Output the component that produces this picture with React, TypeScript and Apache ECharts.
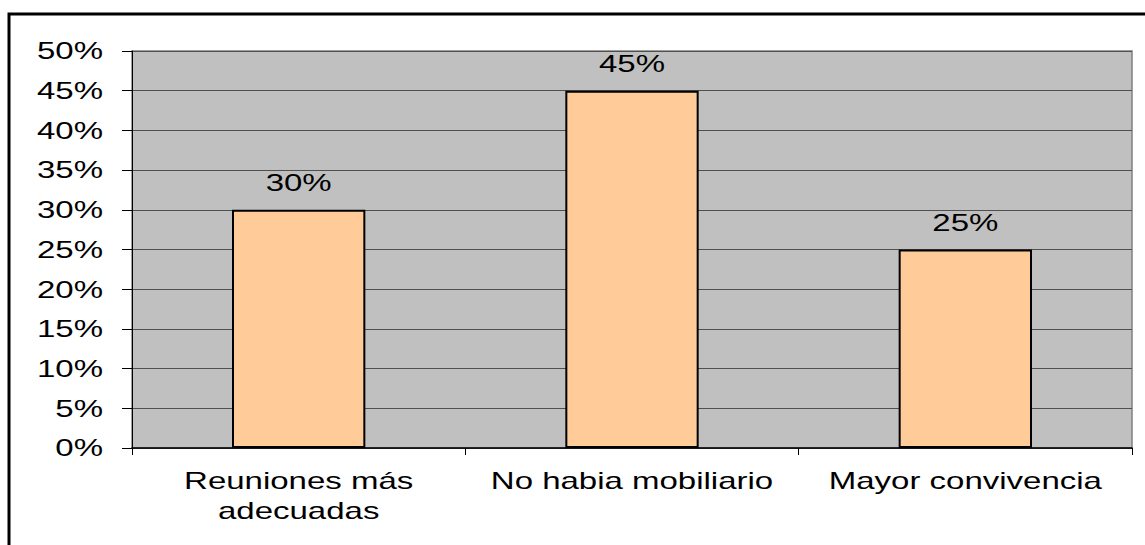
import React, { useEffect, useRef } from "react";
import * as echarts from "echarts";

const categoryLines = [["Reuniones más", "adecuadas"], ["No habia mobiliario"], ["Mayor convivencia"]];
const values = [0.3, 0.45, 0.25];
const yTickValues = [0, 0.05, 0.1, 0.15, 0.2, 0.25, 0.3, 0.35, 0.4, 0.45, 0.5];
const yTickLabels = ["0%", "5%", "10%", "15%", "20%", "25%", "30%", "35%", "40%", "45%", "50%"];
const valueLabels = ["30%", "45%", "25%"];

const FONT = "Liberation Sans";
const FS = 24;
const SX = 1.375;

export default function App() {
  const ref = useRef<HTMLDivElement>(null);
  useEffect(() => {
    document.body.style.margin = "0";
    const chart = echarts.init(ref.current!, null, { renderer: "svg" });
    chart.setOption({
      animation: false,
      backgroundColor: "#ffffff",
      grid: {
        left: 132,
        top: 51,
        width: 1000,
        height: 397,
        show: true,
        backgroundColor: "#C0C0C0",
        borderColor: "#808080",
        borderWidth: 1.5,
      },
      xAxis: {
        type: "category",
        data: categoryLines.map((l) => l.join(" ")),
        boundaryGap: true,
        axisLine: { show: true, lineStyle: { color: "#000", width: 1.5 } },
        axisTick: { show: true, length: 7, alignWithLabel: false, lineStyle: { color: "#000" } },
        axisLabel: { show: false },
      },
      yAxis: {
        type: "value",
        min: 0,
        max: 0.5,
        interval: 0.05,
        axisLine: { show: true, lineStyle: { color: "#000", width: 1 } },
        axisTick: { show: true, length: 10, lineStyle: { color: "#000" } },
        axisLabel: { show: false },
        splitLine: { show: true, lineStyle: { color: "#505050", width: 1 } },
      },
      series: [
        {
          type: "bar",
          data: values,
          barWidth: "40%",
          itemStyle: { color: "#FFCC99", borderColor: "#000", borderWidth: 2 },
          label: { show: false },
        },
      ],
    });

    const txt = (text: string, x: number, y: number, align: string) => ({
      type: "text",
      x,
      y,
      scaleX: SX,
      silent: true,
      style: {
        text,
        fill: "#000",
        fontFamily: FONT,
        fontSize: FS,
        align,
        verticalAlign: "middle",
      },
    });

    const graphics: any[] = [
      {
        type: "rect",
        shape: { x: 9, y: 14, width: 1160, height: 560 },
        style: { fill: "none", stroke: "#000", lineWidth: 3 },
        silent: true,
      },
    ];
    yTickValues.forEach((v, i) => {
      const py = chart.convertToPixel({ yAxisIndex: 0 }, v) as number;
      graphics.push(txt(yTickLabels[i], 103, py, "right"));
    });
    categoryLines.forEach((lines, i) => {
      const px = chart.convertToPixel({ xAxisIndex: 0 }, i) as number;
      lines.forEach((line, j) => {
        graphics.push(txt(line, px, 481 + j * 30, "center"));
      });
    });
    values.forEach((v, i) => {
      const p = chart.convertToPixel({ seriesIndex: 0 }, [i, v]) as number[];
      graphics.push(txt(valueLabels[i], p[0], p[1] - 27, "center"));
    });
    chart.setOption({ graphic: graphics });
    return () => chart.dispose();
  }, []);
  return <div ref={ref} style={{ width: 1145, height: 545 }} />;
}
